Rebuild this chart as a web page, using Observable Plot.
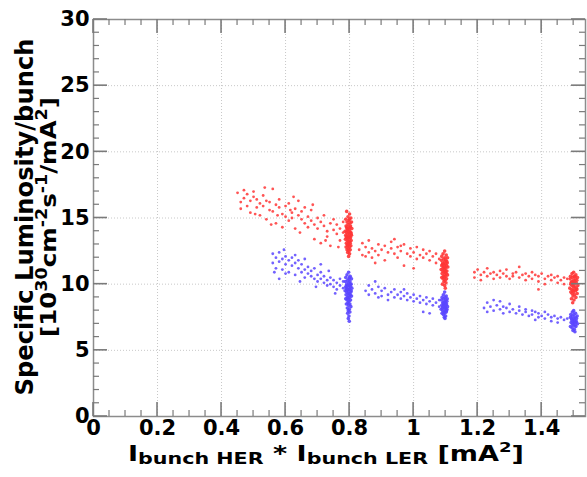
<!DOCTYPE html>
<html><head><meta charset="utf-8">
<script src="https://cdn.jsdelivr.net/npm/d3@7"></script>
<script src="https://cdn.jsdelivr.net/npm/@observablehq/plot@0.6"></script>
<style>html,body{margin:0;padding:0;background:#fff}svg{display:block}</style>
</head><body><div id="chart"></div>
<script>
// Tick values and labels
const xMajor = [0, 0.2, 0.4, 0.6, 0.8, 1.0, 1.2, 1.4];
const xLabels = ["0", "0.2", "0.4", "0.6", "0.8", "1", "1.2", "1.4"];
const xMinor = [0.05, 0.1, 0.15, 0.25, 0.3, 0.35, 0.45, 0.5, 0.55, 0.65, 0.7, 0.75, 0.85, 0.9, 0.95, 1.05, 1.1, 1.15, 1.25, 1.3, 1.35, 1.45, 1.5];
const yMajor = [0, 5, 10, 15, 20, 25, 30];
const yLabels = ["0", "5", "10", "15", "20", "25", "30"];
const yMinor = [1, 2, 3, 4, 6, 7, 8, 9, 11, 12, 13, 14, 16, 17, 18, 19, 21, 22, 23, 24, 26, 27, 28, 29];

// Red series: scattered scans and dense stripes at 0.8, 1.1, 1.5
const redScanA = [[0.45,16.9],[0.46,16.2],[0.46,15.7],[0.47,17.1],[0.47,16.5],[0.48,15.9],[0.48,16.8],[0.49,16.3],[0.49,15.4],[0.50,16.6],[0.50,17.0],[0.51,15.8],[0.51,16.4],[0.52,16.1],[0.52,15.2],[0.53,16.7],[0.53,15.9],[0.54,16.3],[0.54,14.9],[0.55,15.6],[0.55,16.2],[0.56,17.2],[0.56,15.5],[0.57,16.0],[0.57,14.6],[0.58,15.8],[0.58,16.4],[0.59,15.3],[0.59,14.3],[0.60,15.9],[0.60,15.1],[0.61,16.1],[0.61,14.8],[0.62,15.4],[0.62,15.0],[0.63,15.7],[0.63,14.2],[0.64,15.2],[0.64,16.3],[0.65,14.9],[0.65,15.5],[0.66,14.6],[0.66,15.8],[0.67,15.1],[0.67,14.3],[0.68,14.8],[0.68,15.6],[0.69,14.5],[0.69,13.4],[0.70,15.0],[0.70,14.2],[0.71,14.7],[0.71,13.1],[0.72,15.2],[0.72,14.4],[0.73,14.0],[0.73,13.6],[0.74,14.6],[0.74,12.9],[0.75,14.1],[0.75,14.9],[0.76,13.8],[0.76,14.5],[0.77,14.2],[0.77,13.3],[0.78,14.7],[0.78,13.9],[0.79,14.3],[0.505,15.3],[0.535,17.3],[0.575,15.2],[0.615,15.6],[0.645,13.9],[0.685,16.0],[0.725,13.3],[0.765,12.8],[0.625,16.6],[0.555,14.5]];
const redStripeA = [[0.791,15.5],[0.800,15.3],[0.795,15.1],[0.804,15.0],[0.788,14.9],[0.798,14.8],[0.806,14.7],[0.792,14.7],[0.801,14.6],[0.795,14.5],[0.789,14.4],[0.803,14.4],[0.798,14.3],[0.807,14.2],[0.792,14.2],[0.800,14.1],[0.786,14.0],[0.796,14.0],[0.804,13.9],[0.790,13.9],[0.799,13.8],[0.794,13.8],[0.806,13.7],[0.788,13.7],[0.801,13.6],[0.796,13.6],[0.791,13.5],[0.803,13.5],[0.798,13.4],[0.787,13.4],[0.805,13.3],[0.793,13.3],[0.800,13.2],[0.796,13.2],[0.790,13.1],[0.802,13.1],[0.798,13.0],[0.794,12.9],[0.804,12.9],[0.789,12.8],[0.800,12.8],[0.796,12.7],[0.792,12.6],[0.802,12.6],[0.798,12.5],[0.794,12.4],[0.800,12.3],[0.797,12.1],[0.793,14.1],[0.802,14.3],[0.790,13.6],[0.805,13.8],[0.797,13.5],[0.799,14.9],[0.793,13.0],[0.801,13.9]];
const redScanB = [[0.83,12.6],[0.84,13.1],[0.84,12.2],[0.85,12.8],[0.86,12.4],[0.86,13.3],[0.87,12.0],[0.87,12.7],[0.88,12.5],[0.89,13.0],[0.89,12.2],[0.90,12.6],[0.91,12.9],[0.91,11.8],[0.92,12.4],[0.93,13.2],[0.93,12.7],[0.94,12.3],[0.95,12.8],[0.95,12.0],[0.96,12.5],[0.97,13.0],[0.97,11.4],[0.98,12.3],[0.99,12.7],[0.99,12.1],[1.00,12.4],[1.01,12.8],[1.01,11.9],[1.02,12.2],[1.03,12.6],[1.03,12.0],[1.04,12.3],[1.05,11.8],[1.05,12.5],[1.06,12.1],[1.07,11.6],[1.07,12.3],[1.08,11.9],[0.88,11.6],[0.94,13.4],[1.00,11.2],[0.85,12.1],[0.96,12.9]];
const redStripeB = [[1.097,12.5],[1.092,12.3],[1.102,12.2],[1.088,12.1],[1.098,12.0],[1.106,12.0],[1.094,11.9],[1.101,11.8],[1.087,11.8],[1.097,11.7],[1.105,11.6],[1.091,11.6],[1.099,11.5],[1.094,11.5],[1.103,11.4],[1.088,11.4],[1.097,11.3],[1.107,11.3],[1.092,11.2],[1.100,11.2],[1.096,11.1],[1.086,11.1],[1.104,11.0],[1.091,11.0],[1.099,10.9],[1.095,10.9],[1.102,10.8],[1.089,10.8],[1.097,10.7],[1.106,10.7],[1.093,10.6],[1.100,10.6],[1.096,10.5],[1.088,10.5],[1.103,10.4],[1.092,10.4],[1.098,10.3],[1.095,10.2],[1.101,10.1],[1.090,10.0],[1.097,9.9],[1.099,9.7],[1.094,11.3],[1.104,11.7],[1.090,11.5],[1.100,11.0]];
const redScanC = [[1.19,10.9],[1.19,10.5],[1.20,11.1],[1.21,10.7],[1.21,10.3],[1.22,10.9],[1.23,10.6],[1.23,11.2],[1.24,10.8],[1.25,10.4],[1.25,10.9],[1.26,10.7],[1.27,11.0],[1.27,10.5],[1.28,10.8],[1.29,10.6],[1.29,11.1],[1.30,10.4],[1.31,10.8],[1.31,10.6],[1.32,10.9],[1.33,10.5],[1.33,11.3],[1.34,10.7],[1.35,10.3],[1.35,10.8],[1.36,10.6],[1.37,10.9],[1.37,10.4],[1.38,10.7],[1.39,10.2],[1.39,10.6],[1.40,10.8],[1.41,10.4],[1.41,10.0],[1.42,10.6],[1.43,10.3],[1.43,10.7],[1.44,10.5],[1.45,10.1],[1.45,10.6],[1.46,10.3],[1.47,10.5],[1.47,10.0],[1.48,10.4],[1.39,9.6]];
const redStripeC = [[1.500,10.9],[1.495,10.8],[1.507,10.7],[1.490,10.6],[1.501,10.6],[1.512,10.5],[1.496,10.5],[1.505,10.4],[1.489,10.4],[1.500,10.3],[1.510,10.3],[1.494,10.2],[1.503,10.2],[1.498,10.1],[1.508,10.1],[1.491,10.0],[1.501,10.0],[1.513,9.9],[1.495,9.9],[1.504,9.8],[1.499,9.8],[1.488,9.7],[1.509,9.7],[1.494,9.6],[1.502,9.6],[1.497,9.5],[1.506,9.5],[1.491,9.4],[1.500,9.4],[1.511,9.3],[1.495,9.3],[1.503,9.2],[1.498,9.1],[1.507,9.0],[1.493,8.9],[1.501,8.8],[1.497,8.6],[1.504,10.6],[1.492,10.1],[1.510,9.6]];

// Blue series
const blueScanA = [[0.56,12.3],[0.56,11.6],[0.57,12.0],[0.57,11.2],[0.58,12.4],[0.58,11.7],[0.59,11.9],[0.59,11.1],[0.60,12.1],[0.60,11.5],[0.61,11.8],[0.61,10.9],[0.62,11.4],[0.62,12.0],[0.63,11.6],[0.63,10.7],[0.64,11.2],[0.64,11.8],[0.65,10.9],[0.65,11.5],[0.66,11.1],[0.66,10.5],[0.67,11.3],[0.67,10.8],[0.68,10.6],[0.68,11.0],[0.69,10.4],[0.69,11.2],[0.70,10.7],[0.70,10.2],[0.71,10.9],[0.71,10.4],[0.72,10.1],[0.72,10.6],[0.73,10.3],[0.73,9.9],[0.74,10.5],[0.74,10.0],[0.75,9.8],[0.75,10.3],[0.76,10.1],[0.76,9.6],[0.77,9.9],[0.77,10.4],[0.78,9.7],[0.78,10.2],[0.79,9.9],[0.58,10.4],[0.63,12.2],[0.71,11.5],[0.66,11.9],[0.60,10.8],[0.565,10.9],[0.595,12.6],[0.645,10.2],[0.695,9.8],[0.735,11.0],[0.755,9.3]];
const blueStripeA = [[0.797,10.9],[0.792,10.7],[0.802,10.6],[0.788,10.5],[0.798,10.4],[0.806,10.4],[0.794,10.3],[0.801,10.2],[0.787,10.2],[0.797,10.1],[0.805,10.0],[0.791,10.0],[0.799,9.9],[0.794,9.9],[0.803,9.8],[0.788,9.8],[0.797,9.7],[0.807,9.7],[0.792,9.6],[0.800,9.6],[0.796,9.5],[0.786,9.5],[0.804,9.4],[0.791,9.4],[0.799,9.3],[0.795,9.3],[0.802,9.2],[0.789,9.2],[0.797,9.1],[0.806,9.1],[0.793,9.0],[0.800,9.0],[0.796,8.9],[0.788,8.9],[0.803,8.8],[0.792,8.8],[0.798,8.7],[0.795,8.6],[0.801,8.5],[0.790,8.5],[0.797,8.4],[0.804,8.3],[0.793,8.2],[0.799,8.1],[0.796,8.0],[0.801,7.9],[0.794,7.8],[0.798,7.6],[0.796,7.4],[0.799,7.2],[0.802,10.0],[0.790,9.7],[0.805,9.5],[0.793,9.6],[0.800,10.5]];
const blueScanB = [[0.85,9.5],[0.86,9.9],[0.86,9.2],[0.87,9.6],[0.88,9.3],[0.88,10.2],[0.89,9.0],[0.90,9.5],[0.90,9.1],[0.91,9.7],[0.92,9.2],[0.92,8.8],[0.93,9.4],[0.94,9.0],[0.94,9.6],[0.95,9.2],[0.96,8.9],[0.96,9.4],[0.97,9.1],[0.98,8.8],[0.98,9.3],[0.99,9.0],[1.00,8.7],[1.00,9.2],[1.01,8.9],[1.02,9.1],[1.02,8.6],[1.03,8.8],[1.04,8.5],[1.04,9.0],[1.05,8.7],[1.06,8.4],[1.06,8.9],[1.07,8.6],[1.08,8.3],[1.08,8.8],[1.03,7.9],[1.05,7.8],[0.89,9.8],[0.97,9.6]];
const blueStripeB = [[1.097,9.4],[1.093,9.2],[1.102,9.1],[1.089,9.0],[1.098,9.0],[1.105,8.9],[1.094,8.9],[1.101,8.8],[1.087,8.8],[1.097,8.7],[1.104,8.7],[1.091,8.6],[1.099,8.6],[1.094,8.5],[1.103,8.5],[1.088,8.4],[1.097,8.4],[1.106,8.3],[1.092,8.3],[1.100,8.2],[1.096,8.2],[1.086,8.1],[1.104,8.1],[1.091,8.0],[1.099,8.0],[1.095,7.9],[1.102,7.9],[1.089,7.8],[1.097,7.8],[1.093,7.7],[1.100,7.6],[1.096,7.5],[1.098,7.4],[1.094,8.6],[1.101,8.4],[1.090,8.2],[1.103,8.0]];
const blueScanC = [[1.22,8.2],[1.23,8.6],[1.23,7.9],[1.24,8.3],[1.25,8.8],[1.25,8.0],[1.26,8.4],[1.27,8.1],[1.28,8.3],[1.28,7.8],[1.29,8.2],[1.30,8.5],[1.30,7.9],[1.31,8.1],[1.32,7.8],[1.33,8.3],[1.33,8.0],[1.34,7.7],[1.35,8.1],[1.35,7.9],[1.36,7.6],[1.37,8.0],[1.37,7.7],[1.38,7.9],[1.39,7.5],[1.39,7.8],[1.40,7.6],[1.41,7.9],[1.41,7.4],[1.42,7.7],[1.43,7.5],[1.43,7.2],[1.44,7.6],[1.45,7.4],[1.45,7.1],[1.46,7.5],[1.47,7.3],[1.48,7.4],[1.27,8.7],[1.38,7.3]];
const blueStripeC = [[1.500,8.0],[1.496,7.9],[1.506,7.8],[1.491,7.7],[1.501,7.7],[1.511,7.6],[1.496,7.6],[1.505,7.5],[1.490,7.5],[1.500,7.4],[1.509,7.4],[1.494,7.3],[1.503,7.3],[1.498,7.2],[1.508,7.2],[1.492,7.1],[1.501,7.1],[1.512,7.0],[1.496,7.0],[1.504,6.9],[1.499,6.9],[1.490,6.8],[1.507,6.8],[1.495,6.7],[1.502,6.6],[1.498,6.5],[1.504,6.4],[1.493,7.4],[1.506,7.1]];

const toRows = (groups) => groups.flat().map(([x, y]) => ({x, y}));
const redScatter = toRows([redScanA, redScanB, redScanC]);
const redStripes = toRows([redStripeA, redStripeB, redStripeC]);
const blueScatter = toRows([blueScanA, blueScanB, blueScanC]);
const blueStripes = toRows([blueStripeA, blueStripeB, blueStripeC]);

const redColor = "#ff3636", blueColor = "#5a46ff";
const chart = Plot.plot({
  width: 587, height: 477,
  marginLeft: 93, marginRight: 2, marginTop: 19, marginBottom: 61,
  x: {domain: [0, 1.537]},
  y: {domain: [0, 30]},
  style: {fontFamily: "DejaVu Sans", fontWeight: "bold", fontSize: "21px", background: "#fff", color: "#000"},
  marks: [
    Plot.gridX(xMajor, {stroke: "#c8c8c8", strokeOpacity: 1, strokeDasharray: "1,2"}),
    Plot.gridY(yMajor, {stroke: "#c8c8c8", strokeOpacity: 1, strokeDasharray: "1,2"}),
    Plot.dot(blueScatter, {x: "x", y: "y", r: 1.4, fill: blueColor, fillOpacity: 0.85}),
    Plot.dot(blueStripes, {x: "x", y: "y", r: 1.8, fill: blueColor, fillOpacity: 0.9}),
    Plot.dot(redScatter, {x: "x", y: "y", r: 1.4, fill: redColor, fillOpacity: 0.85}),
    Plot.dot(redStripes, {x: "x", y: "y", r: 1.8, fill: redColor, fillOpacity: 0.9}),
    Plot.frame({stroke: "#8c8c8c", strokeWidth: 1.5}),
    Plot.axisX(xMajor, {anchor: "bottom", tickSize: 0, tickPadding: 4, tickFormat: d => xLabels[xMajor.indexOf(d)], label: null, fontSize: 21, fill: "#000"}),
    Plot.axisY(yMajor, {anchor: "left", tickSize: 0, tickPadding: 4, tickFormat: d => yLabels[yMajor.indexOf(d)], label: null, fontSize: 21, fill: "#000"})
  ]
});
document.getElementById("chart").appendChild(chart);

const svgSel = d3.select(chart);
const fontName = "DejaVu Sans";

// Inward ticks on all four sides, placed with the plot's own scales
const sx = chart.scale("x"), sy = chart.scale("y");
const [xLeft, xRight] = sx.range;
const [yBottom, yTop] = sy.range;
const tickG = svgSel.append("g").attr("stroke", "#7a7a7a").attr("fill", "none");
const addTick = (x1, y1, x2, y2, w) => tickG.append("line").attr("x1", x1).attr("y1", y1).attr("x2", x2).attr("y2", y2).attr("stroke-width", w);
for (const v of xMajor) { const px = sx.apply(v); addTick(px, yBottom, px, yBottom - 14, 1.6); addTick(px, yTop, px, yTop + 14, 1.6); }
for (const v of xMinor) { const px = sx.apply(v); addTick(px, yBottom, px, yBottom - 6, 1.2); addTick(px, yTop, px, yTop + 6, 1.2); }
for (const v of yMajor) { const py = sy.apply(v); addTick(xLeft, py, xLeft + 14, py, 1.6); addTick(xRight, py, xRight - 14, py, 1.6); }
for (const v of yMinor) { const py = sy.apply(v); addTick(xLeft, py, xLeft + 6, py, 1.2); addTick(xRight, py, xRight - 6, py, 1.2); }

// x title: I_bunch HER * I_bunch LER [mA^2]
const xt = svgSel.append("text")
  .attr("x", 326).attr("y", 461)
  .attr("text-anchor", "middle")
  .attr("font-family", fontName).attr("font-weight", "bold").attr("font-size", 21).attr("fill", "#000")
  .attr("textLength", 396).attr("lengthAdjust", "spacingAndGlyphs");
xt.append("tspan").text("I");
xt.append("tspan").attr("font-size", 16).attr("dy", 3).text("bunch HER");
xt.append("tspan").attr("dy", -3).text(" * I");
xt.append("tspan").attr("font-size", 16).attr("dy", 3).text("bunch LER");
xt.append("tspan").attr("dy", -3).text(" [mA");
xt.append("tspan").attr("font-size", 14).attr("dy", -9).text("2");
xt.append("tspan").attr("dy", 9).text("]");

// y title line 1
svgSel.append("text")
  .attr("transform", "translate(33,217) rotate(-90)")
  .attr("text-anchor", "middle")
  .attr("font-family", fontName).attr("font-weight", "bold").attr("font-size", 24).attr("fill", "#000")
  .attr("textLength", 357).attr("lengthAdjust", "spacingAndGlyphs")
  .text("Specific Luminosity/bunch");

// y title line 2: [10^30 cm^-2 s^-1/mA^2]
const yt = svgSel.append("text")
  .attr("transform", "translate(56,217) rotate(-90)")
  .attr("text-anchor", "middle")
  .attr("font-family", fontName).attr("font-weight", "bold").attr("font-size", 21).attr("fill", "#000")
  .attr("textLength", 240).attr("lengthAdjust", "spacingAndGlyphs");
yt.append("tspan").text("[10");
yt.append("tspan").attr("font-size", 15).attr("dy", -9).text("30");
yt.append("tspan").attr("dy", 9).text("cm");
yt.append("tspan").attr("font-size", 15).attr("dy", -9).text("-2");
yt.append("tspan").attr("dy", 9).text("s");
yt.append("tspan").attr("font-size", 15).attr("dy", -9).text("-1");
yt.append("tspan").attr("dy", 9).text("/mA");
yt.append("tspan").attr("font-size", 15).attr("dy", -9).text("2");
yt.append("tspan").attr("dy", 9).text("]");
</script>
</body></html>
